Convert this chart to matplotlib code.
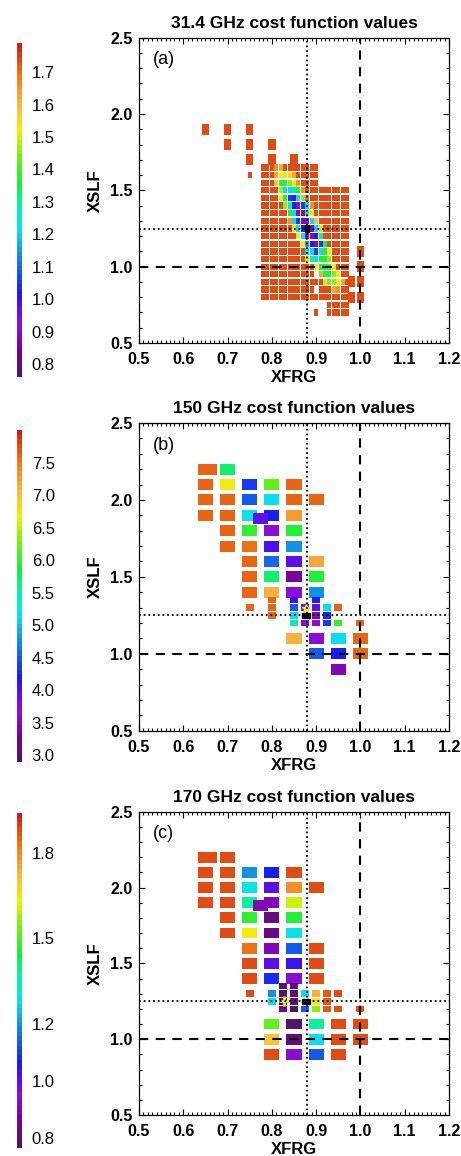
import numpy as np
import matplotlib
matplotlib.use("Agg")
import matplotlib.pyplot as plt
from matplotlib.colors import LinearSegmentedColormap, Normalize
from matplotlib.patches import Rectangle
from matplotlib.collections import PatchCollection
from matplotlib.ticker import MultipleLocator
from matplotlib.cm import ScalarMappable

plt.rcParams['font.family'] = ['Liberation Sans', 'DejaVu Sans']

nan = np.nan

# ---------------- panel (a): 31.4 GHz ----------------
a_title = "31.4 GHz cost function values"
a_range = (0.76, 1.79)
a_ticks = [0.8, 0.9, 1.0, 1.1, 1.2, 1.3, 1.4, 1.5, 1.6, 1.7]

# coarse search points
a_coarse_x = [0.65, 0.70, 0.75, 0.70, 0.75, 0.80, 0.75, 0.80, 0.85,
              1.00, 1.00, 1.00, 1.00, 0.98, 0.98]
a_coarse_y = [1.9, 1.9, 1.9, 1.8, 1.8, 1.8, 1.7, 1.7, 1.7,
              1.1, 1.0, 0.9, 0.8, 0.9, 0.8]
a_coarse_v = [1.74] * 15

# fine search grid: columns XFRG 0.78..0.97, rows XSLF 1.65..0.70
a_fine_cols = [0.78, 0.79, 0.80, 0.81, 0.82, 0.83, 0.84, 0.85, 0.86, 0.87,
               0.88, 0.89, 0.90, 0.91, 0.92, 0.93, 0.94, 0.95, 0.96, 0.97]
a_fine_rows = [1.65, 1.60, 1.55, 1.50, 1.45, 1.40, 1.35, 1.30, 1.25, 1.20,
               1.15, 1.10, 1.05, 1.00, 0.95, 0.90, 0.85, 0.80, 0.75, 0.70]
o = 1.74
a_fine_v = [
    [o, o, o, 1.65, 1.63, o, o, o, o, o, o, o, o, nan, nan, nan, nan, nan, nan, nan],
    [o, o, o, 1.62, 1.52, 1.52, 1.56, 1.62, o, o, o, o, o, nan, nan, nan, nan, nan, nan, nan],
    [o, o, o, 1.58, 1.38, 1.38, 1.45, 1.52, 1.65, o, o, o, o, nan, nan, nan, nan, nan, nan, nan],
    [o, o, o, o, 1.47, 1.21, 1.21, 1.28, 1.37, 1.66, o, o, o, o, o, o, o, o, o, o],
    [o, o, o, o, 1.52, 1.37, 1.06, 1.04, 1.21, 1.45, 1.70, o, o, o, o, o, o, o, o, o],
    [o, o, o, o, o, 1.45, 1.28, 1.03, 0.92, 1.05, 1.21, 1.66, o, o, o, o, o, o, o, o],
    [o, o, o, o, o, o, 1.37, 1.21, 0.90, 0.88, 1.25, 1.52, o, o, o, o, o, o, o, o],
    [o, o, o, o, o, o, 1.65, 1.21, 1.05, 0.88, 0.92, 1.21, 1.60, o, o, o, o, o, o, o],
    [o, o, o, o, o, o, o, 1.52, 1.21, 1.03, 0.77, 0.88, 1.21, 1.50, o, o, o, o, o, o],
    [o, o, o, o, o, o, o, o, 1.52, 1.21, 0.90, 0.88, 1.03, 1.30, o, o, o, o, o, o],
    [o, o, o, o, o, o, o, o, o, 1.52, 1.15, 1.03, 0.90, 1.05, 1.37, o, o, o, o, o],
    [o, o, o, o, o, o, o, o, o, o, 1.21, 1.21, 1.05, 1.21, 1.37, 1.52, o, o, o, o],
    [o, o, o, o, o, o, o, o, o, o, 1.52, 1.30, 1.21, 1.37, 1.37, 1.45, o, o, o, o],
    [o, o, o, o, o, o, o, o, o, o, o, o, 1.52, 1.37, 1.37, 1.40, 1.52, o, o, o],
    [o, o, o, o, o, o, o, o, o, o, o, o, nan, 1.63, 1.37, 1.37, 1.45, 1.52, o, o],
    [o, o, o, o, o, o, o, o, o, o, o, o, o, o, 1.55, 1.45, 1.45, 1.52, 1.62, o],
    [o, o, o, o, o, o, o, o, o, o, o, o, nan, o, o, o, 1.62, 1.66, o, o],
    [o, o, o, o, o, o, o, o, o, o, o, o, o, o, o, o, o, o, o, o],
    [nan, nan, nan, nan, nan, nan, nan, nan, nan, nan, nan, nan, nan, nan, nan, o, o, o, o, o],
    [nan, nan, nan, nan, nan, nan, nan, nan, nan, nan, nan, nan, o, nan, nan, o, o, o, o, o],
]
a_extra_x = [0.75]
a_extra_y = [1.60]
a_extra_v = [1.74]
a_best = (0.88, 1.25)

# ---------------- panel (b): 150 GHz ----------------
b_title = "150 GHz cost function values"
b_range = (2.9, 8.0)
b_ticks = [3.0, 3.5, 4.0, 4.5, 5.0, 5.5, 6.0, 6.5, 7.0, 7.5]

b_coarse_x = [0.65, 0.66, 0.70,
              0.65, 0.70, 0.75, 0.80, 0.85,
              0.65, 0.70, 0.75, 0.80, 0.85, 0.90,
              0.65, 0.70, 0.75, 0.80, 0.85, 0.775,
              0.70, 0.75, 0.80, 0.85,
              0.70, 0.75, 0.80, 0.85,
              0.75, 0.80, 0.85, 0.90,
              0.75, 0.80, 0.85, 0.90,
              0.75, 0.80, 0.85, 0.90,
              0.85, 0.90, 0.95, 1.00,
              0.90, 0.95, 1.00,
              0.95]
b_coarse_y = [2.2, 2.2, 2.2,
              2.1, 2.1, 2.1, 2.1, 2.1,
              2.0, 2.0, 2.0, 2.0, 2.0, 2.0,
              1.9, 1.9, 1.9, 1.9, 1.9, 1.88,
              1.8, 1.8, 1.8, 1.8,
              1.7, 1.7, 1.7, 1.7,
              1.6, 1.6, 1.6, 1.6,
              1.5, 1.5, 1.5, 1.5,
              1.4, 1.4, 1.4, 1.4,
              1.1, 1.1, 1.1, 1.1,
              1.0, 1.0, 1.0,
              0.9]
b_coarse_v = [7.64, 7.64, 5.71,
              7.64, 6.67, 4.33, 6.22, 7.64,
              7.64, 7.64, 4.48, 5.14, 7.64, 7.64,
              7.64, 7.64, 5.20, 4.23, 7.29, 3.92,
              7.64, 5.96, 3.67, 5.91,
              7.64, 7.54, 3.97, 4.79,
              7.64, 4.58, 3.92, 7.20,
              7.64, 5.71, 3.36, 5.91,
              7.64, 7.13, 3.67, 4.79,
              7.08, 3.67, 5.14, 7.64,
              4.48, 4.23, 7.64,
              3.51]

b_fine_x = [0.75, 0.80, 0.80, 0.80, 0.85, 0.85, 0.85, 0.85, 0.875, 0.875,
            0.90, 0.90, 0.90, 0.90, 0.925, 0.925, 0.925, 0.95, 0.95, 1.00]
b_fine_y = [1.30, 1.35, 1.30, 1.25, 1.35, 1.30, 1.25, 1.20, 1.30, 1.20,
            1.35, 1.30, 1.25, 1.20, 1.30, 1.25, 1.20, 1.30, 1.20, 1.20]
b_fine_v = [7.64, 7.64, 7.64, 7.64, 4.07, 4.48, 5.14, 5.55, 3.67, 3.67,
            4.23, 3.92, 3.50, 3.67, 5.14, 4.30, 4.35, 7.64, 5.96, 7.64]
b_best = (0.877, 1.25)
b_mark = (0.877, 1.30)

# ---------------- panel (c): 170 GHz ----------------
c_title = "170 GHz cost function values"
c_range = (0.765, 1.94)
c_ticks = [0.8, 1.0, 1.2, 1.5, 1.8]

c_coarse_x = [0.65, 0.66, 0.70,
              0.65, 0.70, 0.75, 0.80, 0.85,
              0.65, 0.70, 0.75, 0.80, 0.85, 0.90,
              0.65, 0.70, 0.75, 0.80, 0.85, 0.775,
              0.70, 0.75, 0.80, 0.85,
              0.70, 0.75, 0.80, 0.85,
              0.75, 0.80, 0.85, 0.90,
              0.75, 0.80, 0.85, 0.90,
              0.75, 0.80, 0.85, 0.90,
              0.80, 0.85, 0.90, 0.95, 1.00,
              0.80, 0.85, 0.90, 0.95, 1.00,
              0.80, 0.85, 0.90, 0.95]
c_coarse_y = [2.2, 2.2, 2.2,
              2.1, 2.1, 2.1, 2.1, 2.1,
              2.0, 2.0, 2.0, 2.0, 2.0, 2.0,
              1.9, 1.9, 1.9, 1.9, 1.9, 1.88,
              1.8, 1.8, 1.8, 1.8,
              1.7, 1.7, 1.7, 1.7,
              1.6, 1.6, 1.6, 1.6,
              1.5, 1.5, 1.5, 1.5,
              1.4, 1.4, 1.4, 1.4,
              1.1, 1.1, 1.1, 1.1, 1.1,
              1.0, 1.0, 1.0, 1.0, 1.0,
              0.9, 0.9, 0.9, 0.9]
c_coarse_v = [1.88, 1.88, 1.88,
              1.88, 1.88, 1.20, 1.06, 1.88,
              1.88, 1.88, 1.29, 1.00, 1.79, 1.88,
              1.88, 1.88, 1.38, 0.91, 1.60, 0.91,
              1.88, 1.48, 0.82, 1.46,
              1.88, 1.635, 0.835, 1.29,
              1.835, 0.91, 1.13, 1.88,
              1.88, 1.00, 1.035, 1.88,
              1.88, 1.08, 0.94, 1.88,
              1.53, 0.79, 1.38, 1.88, 1.88,
              1.705, 0.82, 1.28, 1.88, 1.88,
              1.88, 0.94, 1.13, 1.88]

c_fine_x = [0.75, 0.80, 0.80,
            0.825, 0.85, 0.825, 0.85, 0.825, 0.85, 0.825, 0.85,
            0.875, 0.875, 0.90, 0.90, 0.90,
            0.925, 0.925, 0.925, 0.95, 0.95, 1.00]
c_fine_y = [1.30, 1.30, 1.25,
            1.35, 1.35, 1.30, 1.30, 1.25, 1.25, 1.20, 1.20,
            1.30, 1.20, 1.30, 1.25, 1.20,
            1.30, 1.25, 1.20, 1.30, 1.20, 1.20]
c_fine_v = [1.88, 1.20, 1.28,
            0.80, 0.82, 0.79, 0.80, 0.84, 0.80, 0.86, 0.79,
            1.28, 1.13, 1.74, 1.64, 1.55,
            1.86, 1.86, 1.86, 1.88, 1.88, 1.88]
c_best = (0.877, 1.25)
c_mark = (0.828, 1.25)

# reference retrieval lines
ref_xfrg = 0.88
ref_xslf = 1.25
unit = 1.0

# ---------------- colour table ----------------
_anchors = [
    (0.00, (75, 25, 95)), (0.08, (120, 0, 150)), (0.15, (140, 15, 220)),
    (0.20, (90, 15, 235)), (0.25, (25, 25, 245)), (0.32, (20, 100, 230)),
    (0.38, (20, 160, 225)), (0.44, (10, 225, 240)), (0.52, (10, 240, 160)),
    (0.58, (20, 240, 60)), (0.66, (110, 240, 20)), (0.74, (240, 240, 10)),
    (0.82, (250, 185, 70)), (0.90, (242, 125, 25)), (0.95, (225, 85, 20)),
    (1.00, (215, 25, 20)),
]
cmap = LinearSegmentedColormap.from_list(
    "idl_rainbow", [(t, tuple(c / 255 for c in rgb)) for t, rgb in _anchors], N=72)

fig = plt.figure(figsize=(4.61, 11.56), dpi=100)
W, H = 461.0, 1156.0


def add_cells(ax, xs, ys, vs, w, h, norm):
    patches = [Rectangle((x - w / 2, y - h / 2), w, h) for x, y in zip(xs, ys)]
    pc = PatchCollection(patches, cmap=cmap, norm=norm, edgecolor='none',
                         linewidth=0, zorder=2)
    pc.set_array(np.asarray(vs, dtype=float))
    ax.add_collection(pc)


def style_axes(ax, title, tag):
    ax.set_xlim(0.5, 1.2)
    ax.set_ylim(0.5, 2.5)
    ax.xaxis.set_major_locator(MultipleLocator(0.1))
    ax.xaxis.set_minor_locator(MultipleLocator(0.01))
    ax.yaxis.set_major_locator(MultipleLocator(0.5))
    ax.yaxis.set_minor_locator(MultipleLocator(0.1))
    ax.xaxis.set_major_formatter(plt.FormatStrFormatter('%.1f'))
    ax.yaxis.set_major_formatter(plt.FormatStrFormatter('%.1f'))
    ax.tick_params(which='both', direction='in', top=True, right=True,
                   width=0.8, labelsize=11.5)
    ax.tick_params(axis='x', which='major', pad=6.5)
    ax.tick_params(axis='y', which='major', pad=4.5)
    ax.tick_params(which='major', length=4)
    ax.tick_params(which='minor', length=2.2)
    for lab in ax.get_xticklabels() + ax.get_yticklabels():
        lab.set_fontweight('bold')
    for s in ax.spines.values():
        s.set_linewidth(0.9)
    ax.set_title(title, fontsize=12.5, fontweight='bold', pad=7)
    ax.set_xlabel('XFRG', fontsize=12, fontweight='bold', labelpad=2)
    ax.set_ylabel('XSLF', fontsize=12, fontweight='bold', labelpad=5)
    ax.text(0.045, 0.955, tag, transform=ax.transAxes, va='top', ha='left',
            fontsize=13)
    ax.axvline(ref_xfrg, color='k', lw=1.3, ls=(0, (1, 1.6)), zorder=3)
    ax.axhline(ref_xslf, color='k', lw=1.3, ls=(0, (1, 1.6)), zorder=3)
    ax.axvline(unit, color='k', lw=1.5, ls=(0, (4.5, 3.5)), zorder=3)
    ax.axhline(unit, color='k', lw=1.5, ls=(0, (4.5, 3.5)), zorder=3)


def add_colorbar(top_px, bot_px, vrange, ticks):
    cax = fig.add_axes([17 / W, 1 - bot_px / H, 5 / W, (bot_px - top_px) / H])
    sm = ScalarMappable(norm=Normalize(*vrange), cmap=cmap)
    cb = fig.colorbar(sm, cax=cax, ticks=ticks)
    cb.outline.set_visible(False)
    cb.ax.tick_params(length=0, pad=7, labelsize=12)
    cb.ax.yaxis.set_major_formatter(plt.FormatStrFormatter('%.1f'))
    return cb


def panel_axes(top_px, bot_px):
    return fig.add_axes([139 / W, 1 - bot_px / H, 310 / W, (bot_px - top_px) / H])


# panel (a)
norm_a = Normalize(*a_range)
ax = panel_axes(37.7, 343.0)
style_axes(ax, a_title, '(a)')
add_cells(ax, a_coarse_x, a_coarse_y, a_coarse_v, 0.017, 0.072, norm_a)
fx, fy, fv = [], [], []
for yv, row in zip(a_fine_rows, a_fine_v):
    for xv, val in zip(a_fine_cols, row):
        if not np.isnan(val):
            fx.append(xv); fy.append(yv); fv.append(val)
add_cells(ax, fx, fy, fv, 0.0088, 0.041, norm_a)
add_cells(ax, a_extra_x, a_extra_y, a_extra_v, 0.0088, 0.041, norm_a)
ax.add_patch(Rectangle((a_best[0] - 0.0044, a_best[1] - 0.0205), 0.0088, 0.041,
                       color='k', zorder=2.5))
add_colorbar(43, 377, a_range, a_ticks)

# panel (b)
norm_b = Normalize(*b_range)
ax = panel_axes(423.0, 730.7)
style_axes(ax, b_title, '(b)')
add_cells(ax, b_coarse_x, b_coarse_y, b_coarse_v, 0.034, 0.072, norm_b)
add_cells(ax, b_fine_x, b_fine_y, b_fine_v, 0.018, 0.043, norm_b)
ax.add_patch(Rectangle((b_best[0] - 0.008, b_best[1] - 0.018), 0.016, 0.036,
                       color='k', zorder=2.5))
ax.plot(*b_mark, marker='*', color='#e8f020', ms=6, zorder=2.6)
add_colorbar(430, 762, b_range, b_ticks)

# panel (c)
norm_c = Normalize(*c_range)
ax = panel_axes(811.7, 1115.0)
style_axes(ax, c_title, '(c)')
add_cells(ax, c_coarse_x, c_coarse_y, c_coarse_v, 0.034, 0.072, norm_c)
add_cells(ax, c_fine_x, c_fine_y, c_fine_v, 0.018, 0.043, norm_c)
ax.add_patch(Rectangle((c_best[0] - 0.008, c_best[1] - 0.018), 0.016, 0.036,
                       color='k', zorder=2.5))
ax.plot(*c_mark, marker='+', color='#e8f020', ms=7, mew=2, zorder=2.6)
add_colorbar(813, 1148, c_range, c_ticks)

fig.savefig('out.png', dpi=100)
